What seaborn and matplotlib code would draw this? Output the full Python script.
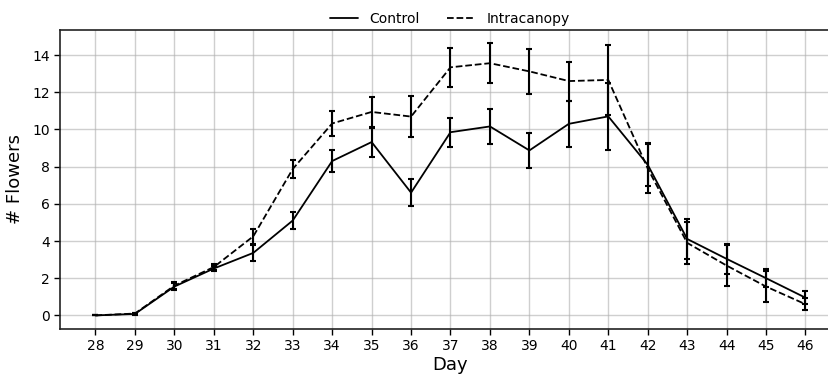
import numpy as np
import pandas as pd
import matplotlib
matplotlib.use("Agg")
import matplotlib.pyplot as plt
import seaborn as sns

days = list(range(28, 47))
control_mean = [0.0, 0.08, 1.55, 2.52, 3.36, 5.1, 8.3, 9.32, 6.6, 9.85, 10.16, 8.87, 10.3, 10.7, 8.1, 4.11, 3.04, 2.0, 0.95]
control_err = [0.0, 0.05, 0.2, 0.15, 0.41, 0.44, 0.57, 0.78, 0.72, 0.77, 0.94, 0.93, 1.22, 1.8, 1.15, 1.08, 0.8, 0.5, 0.35]
intra_mean = [0.0, 0.1, 1.6, 2.6, 4.25, 7.87, 10.32, 10.94, 10.69, 13.34, 13.56, 13.12, 12.6, 12.66, 7.9, 3.9, 2.68, 1.55, 0.6]
intra_err = [0.0, 0.05, 0.2, 0.15, 0.4, 0.5, 0.65, 0.79, 1.08, 1.04, 1.07, 1.2, 1.05, 1.86, 1.3, 1.13, 1.1, 0.85, 0.33]
series_names = ["Control", "Intracanopy"]

df = pd.concat([
    pd.DataFrame({"Day": days, "Flowers": control_mean, "err": control_err, "Treatment": series_names[0]}),
    pd.DataFrame({"Day": days, "Flowers": intra_mean, "err": intra_err, "Treatment": series_names[1]}),
], ignore_index=True)

sns.set_style("ticks")
plt.rcParams["font.family"] = ["DejaVu Sans"]
plt.rcParams["text.color"] = "black"
plt.rcParams["axes.labelcolor"] = "black"
plt.rcParams["xtick.color"] = "black"
plt.rcParams["ytick.color"] = "black"

fig = plt.figure(figsize=(8.29, 3.74), dpi=100)
ax = fig.add_axes([60 / 829, 1 - 329 / 374, (841 - 60) / 829, (329 - 29.7) / 374])

sns.lineplot(data=df, x="Day", y="Flowers", style="Treatment",
             dashes={"Control": "", "Intracanopy": (3.7, 1.6)},
             color="black", linewidth=1.3, ax=ax, errorbar=None)

for name in series_names:
    sub = df[df["Treatment"] == name]
    ax.errorbar(sub["Day"], sub["Flowers"], yerr=sub["err"], fmt="none",
                ecolor="black", elinewidth=1.5, capsize=2.5, capthick=1.5)

ax.set_xticks(days)
ax.set_yticks(range(0, 15, 2))
ax.grid(True, color="#b0b0b0", alpha=0.6, linewidth=1)
ax.set_axisbelow(True)
for s in ax.spines.values():
    s.set_color("#222222")
    s.set_linewidth(1.2)
ax.tick_params(labelsize=10, length=4, width=1)
ax.set_xlabel("Day", fontsize=13, labelpad=2)
ax.set_ylabel("# Flowers", fontsize=13, labelpad=6)

handles, labels = ax.get_legend_handles_labels()
fig.legend(handles, labels, loc="center", bbox_to_anchor=(450 / 829, 1 - 19 / 374),
           ncol=2, frameon=False, fontsize=10, columnspacing=2.0, handlelength=2.0,
           borderaxespad=0)
if ax.get_legend():
    ax.get_legend().remove()

fig.savefig("out.png", dpi=100)
